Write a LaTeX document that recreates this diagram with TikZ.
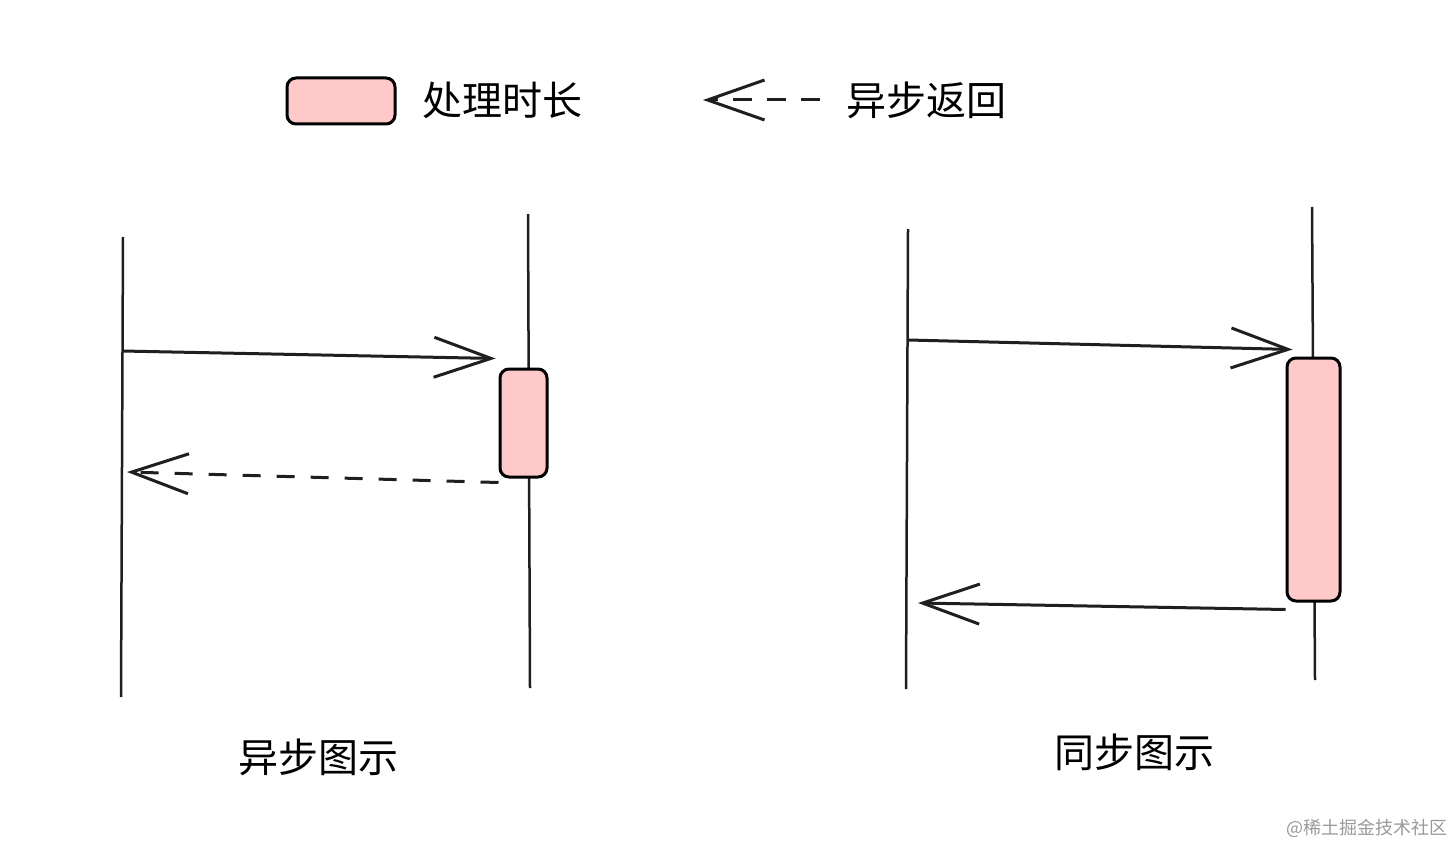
\documentclass[tikz,border=0pt]{standalone}
\usepackage{fontspec}
\setmainfont{Noto Sans CJK SC}
\usepackage{xcolor}
\usetikzlibrary{arrows.meta, positioning}
\definecolor{actpink}{HTML}{FFC9C9}

\begin{document}
\begin{tikzpicture}[x=1pt, y=-1pt, >={Straight Barb[length=57pt, width=40pt]},
  every node/.style={font=\fontsize{40}{42}\selectfont, inner sep=0pt},
  lifeline/.style={line width=2.5pt, black!88},
  msg/.style={->, line width=3pt, black!88},
  reply/.style={msg, dash pattern=on 18pt off 16pt},
  actbox/.style={draw, line width=3pt, fill=actpink, rounded corners=9pt}]
  \useasboundingbox (0,0) rectangle (1453,845);

  % legend
  \node[actbox, minimum width=108pt, minimum height=46pt] (legbox) at (341,101) {};
  \node[anchor=west] (legtext) at (422,100) {处理时长};
  \coordinate (legtip) at (703,100);
  \coordinate (legtail) at (820,100);
  \draw[reply, dash pattern=on 19pt off 15pt] (legtail) -- (legtip);
  \node[anchor=west] (legreply) at (846,100) {异步返回};

  % async lifelines
  \coordinate (a1top) at (123,237);
  \coordinate (a1bot) at (121,697);
  \coordinate (a2top) at (528,214);
  \coordinate (a2bot) at (530,688);
  \draw[lifeline] (a1top) -- (a1bot);
  \draw[lifeline] (a2top) -- (a2bot);
  \node[actbox, minimum width=47pt, minimum height=108pt] (abox) at (523.5,423) {};
  \coordinate (areq) at (122,351);
  \coordinate (aret) at (127,472);
  \draw[msg] (areq) -- ([xshift=-3pt, yshift=9pt]abox.north west);
  \draw[reply] ([yshift=-4pt]abox.south west) -- (aret);
  \node (alabel) at (318,757) {异步图示};

  % sync lifelines
  \coordinate (s1top) at (908,229);
  \coordinate (s1bot) at (906,689);
  \coordinate (s2top) at (1312,207);
  \coordinate (s2bot) at (1315,680);
  \draw[lifeline] (s1top) -- (s1bot);
  \draw[lifeline] (s2top) -- (s2bot);
  \node[actbox, minimum width=53pt, minimum height=243pt] (sbox) at (1313.5,479.5) {};
  \coordinate (sreq) at (908,340);
  \coordinate (sret) at (918,603);
  \draw[msg] (sreq) -- ([xshift=7pt, yshift=7pt]sbox.north west);
  \draw[msg] ([yshift=-7pt]sbox.south west) -- (sret);
  \node (slabel) at (1134,752) {同步图示};

  \node[anchor=east, text=black!40, font=\fontsize{18}{20}\selectfont] (mark) at (1448,828) {@稀土掘金技术社区};
\end{tikzpicture}
\end{document}
